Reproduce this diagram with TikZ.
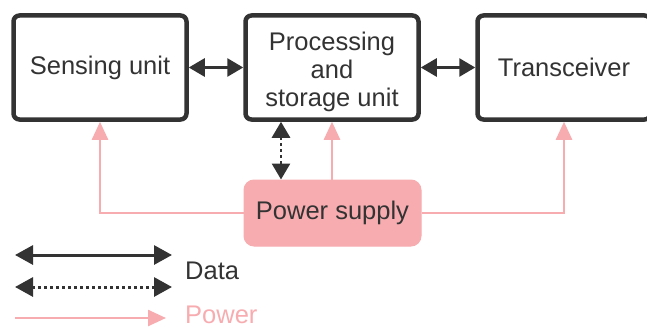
\documentclass[tikz,border=0pt]{standalone}
\usepackage{fontspec}
\setmainfont{Liberation Sans}
\usetikzlibrary{arrows.meta}
\definecolor{darkgrey}{RGB}{51,51,51}
\definecolor{pwrpink}{RGB}{247,172,176}

\begin{document}
\begin{tikzpicture}[x=1pt,y=-1pt,
    unitbox/.style={draw=darkgrey, line width=4.5pt, rounded corners=6pt, minimum width=173pt, minimum height=104pt, inner sep=0pt, align=center, text=darkgrey, font=\fontsize{25.5}{28}\selectfont},
    pwrbox/.style={draw=pwrpink, fill=pwrpink, line width=1pt, rounded corners=10pt, minimum width=177pt, minimum height=66pt, inner sep=0pt, text=darkgrey, font=\fontsize{25.5}{28}\selectfont},
    lbl/.style={anchor=west, inner sep=0pt, font=\fontsize{25.5}{28}\selectfont},
    dataarrow/.style={{Triangle[length=16pt,width=18pt]}-{Triangle[length=16pt,width=18pt]}, line width=2.8pt, draw=darkgrey},
    bigdata/.style={{Triangle[length=18pt,width=19pt]}-{Triangle[length=18pt,width=19pt]}, line width=3pt, draw=darkgrey},
    dots/.style={dash pattern=on 3pt off 3pt},
    pwrarrow/.style={-{Triangle[length=18pt,width=16pt]}, line width=2.5pt, draw=pwrpink}]
    \useasboundingbox (0,0) rectangle (647,329);

    %Shape: unit boxes
    \node [unitbox] (sense) at (100,67.5) {Sensing unit};
    \node [unitbox] (proc) at (332,67.5) {\raisebox{-11.5pt}[0pt][0pt]{\begin{tabular}{@{}c@{}}Processing\\and\\storage unit\end{tabular}}};
    \node [unitbox] (trx) at (564,67.5) {Transceiver};
    %Shape: power supply
    \node [pwrbox] (pwr) at (332.5,213) {Power supply};

    %Straight Lines: data
    \draw [dataarrow] (sense) -- (proc);
    \draw [dataarrow] (proc) -- (trx);
    \draw [dataarrow, dots] ([xshift=-51pt]proc.south) -- ([xshift=-51.5pt]pwr.north);

    %Straight Lines: power
    \draw [pwrarrow] (pwr.north -| proc.south) -- (proc.south);
    \draw [pwrarrow] (pwr.west) -| (sense.south);
    \draw [pwrarrow] (pwr.east) -| (trx.south);

    % Legend
    \coordinate (solidA) at (15,255);
    \coordinate (solidB) at (172,255);
    \coordinate (dotsA) at (15,287);
    \coordinate (dotsB) at (172,287);
    \coordinate (pwrA) at (15,318);
    \coordinate (pwrB) at (166,318);
    \draw [bigdata] (solidA) -- (solidB);
    \draw [bigdata, dots] (dotsA) -- (dotsB);
    \draw [pwrarrow] (pwrA) -- (pwrB);
    % Text Node
    \node [lbl, text=darkgrey] (datalbl) at (185,271) {Data};
    % Text Node
    \node [lbl, text=pwrpink] (pwrlbl) at (185,315) {Power};
\end{tikzpicture}
\end{document}
